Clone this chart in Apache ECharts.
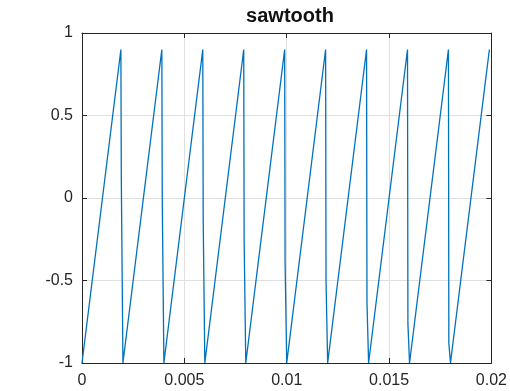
<!DOCTYPE html>
<html>
<head>
<meta charset="utf-8">
<script src="https://cdn.jsdelivr.net/npm/echarts@6/dist/echarts.min.js"></script>
<style>
html,body{margin:0;padding:0;background:#fff;}
#chart{width:510px;height:391px;}
</style>
</head>
<body>
<div id="chart"></div>
<script>
// Vertices of the plotted sawtooth trace (time in s, amplitude)
const time = [
  0,
  0.0019, 0.00192, 0.0020,
  0.0039, 0.00392, 0.0040,
  0.0059, 0.00592, 0.0060,
  0.0079, 0.00792, 0.0080,
  0.0099, 0.00992, 0.0100,
  0.0119, 0.01192, 0.0120,
  0.0139, 0.01392, 0.0140,
  0.0159, 0.01592, 0.0160,
  0.0179, 0.01792, 0.0180,
  0.0199
];
const amplitude = [
  -1,
  0.9, 0.12, -1,
  0.9, 0.0, -1,
  0.9, -0.13, -1,
  0.9, -0.25, -1,
  0.9, -0.38, -1,
  0.9, -0.5, -1,
  0.9, -0.63, -1,
  0.9, -0.76, -1,
  0.9, -0.88, -1,
  0.9
];
const xTicks = [0, 0.005, 0.01, 0.015, 0.02];
const yTicks = [-1, -0.5, 0, 0.5, 1];
const titleText = 'sawtooth';

const pts = time.map((t, i) => [t, amplitude[i]]);
const axisColor = '#262626';
const font = "'Liberation Sans', Arial, Helvetica, sans-serif";

const chart = echarts.init(document.getElementById('chart'), null, {renderer: 'canvas'});
const baseAxis = {
  type: 'value',
  axisLine: {show: true, onZero: false, lineStyle: {color: axisColor, width: 1}},
  axisTick: {show: true, inside: true, length: 5, lineStyle: {color: axisColor}},
};
chart.setOption({
  animation: false,
  backgroundColor: '#fff',
  title: {
    text: titleText,
    left: 285,
    textAlign: 'center',
    top: 1,
    textStyle: {fontFamily: font, fontSize: 20, fontWeight: 'bold', color: '#111'}
  },
  grid: {left: 82, right: 15, top: 33, bottom: 28, containLabel: false},
  xAxis: [
    Object.assign({}, baseAxis, {
      position: 'bottom',
      min: xTicks[0], max: xTicks[xTicks.length - 1], interval: xTicks[1] - xTicks[0],
      axisLabel: {color: axisColor, fontFamily: font, fontSize: 16, margin: 10,
        formatter: v => String(+v.toFixed(4))},
      splitLine: {show: true, lineStyle: {color: '#dfdfdf', width: 1}}
    }),
    Object.assign({}, baseAxis, {
      position: 'top',
      min: xTicks[0], max: xTicks[xTicks.length - 1], interval: xTicks[1] - xTicks[0],
      axisLabel: {show: false},
      splitLine: {show: false}
    })
  ],
  yAxis: [
    Object.assign({}, baseAxis, {
      position: 'left',
      min: yTicks[0], max: yTicks[yTicks.length - 1], interval: yTicks[1] - yTicks[0],
      axisLabel: {color: axisColor, fontFamily: font, fontSize: 16, margin: 9,
        formatter: v => String(+v.toFixed(2))},
      splitLine: {show: true, lineStyle: {color: '#dfdfdf', width: 1}}
    }),
    Object.assign({}, baseAxis, {
      position: 'right',
      min: yTicks[0], max: yTicks[yTicks.length - 1], interval: yTicks[1] - yTicks[0],
      axisLabel: {show: false},
      splitLine: {show: false}
    })
  ],
  series: [{
    type: 'line',
    data: pts,
    showSymbol: false,
    symbol: 'none',
    clip: false,
    lineStyle: {color: '#0072BD', width: 1.3},
    z: 1
  }]
});
</script>
</body>
</html>
